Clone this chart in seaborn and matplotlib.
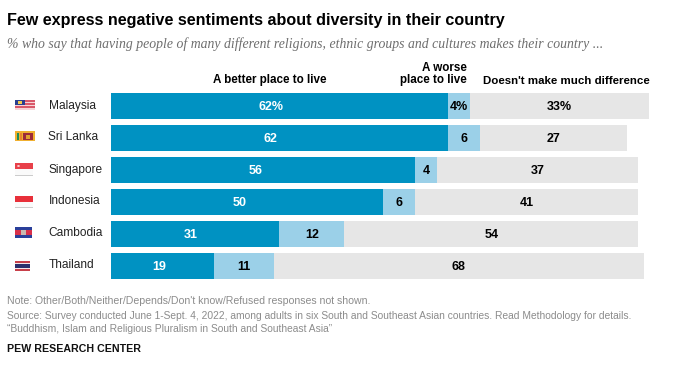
import pandas as pd
import matplotlib
matplotlib.use("Agg")
import matplotlib.pyplot as plt
import seaborn as sns
from matplotlib.patches import Rectangle, Circle

countries = ["Malaysia", "Sri Lanka", "Singapore", "Indonesia", "Cambodia", "Thailand"]
better = [62, 62, 56, 50, 31, 19]
worse = [4, 6, 4, 6, 12, 11]
no_diff = [33, 27, 37, 41, 54, 68]

W, H = 675, 369
C_DARK = "#0092c2"
C_LIGHT = "#9bd0e8"
C_GREY = "#e6e6e6"
C_NOTE = "#8c8c8c"

sns.set_theme(style="white")
plt.rcParams["font.family"] = ["Liberation Sans", "DejaVu Sans"]

df = pd.DataFrame({"country": countries, "better": better, "worse": worse, "no_diff": no_diff})
df["better_worse"] = df["better"] + df["worse"]
df["total"] = df["better_worse"] + df["no_diff"]

fig = plt.figure(figsize=(W / 100, H / 100), dpi=100, facecolor="white")
# eje: 0-100 ocupa 544 px desde x=110.5
ax = fig.add_axes([110.5 / W, (H - 282.5) / H, 544 / W, 192.5 / H])

# barras apiladas: se pinta de la total hacia la primera
for col, color in [("total", C_GREY), ("better_worse", C_LIGHT), ("better", C_DARK)]:
    sns.barplot(data=df, x=col, y="country", order=countries, color=color, saturation=1,
                width=0.81, ax=ax, linewidth=0)

ax.set_xlim(0, 100)
ax.set_ylim(5.5, -0.5)
ax.axis("off")

bar_font = dict(fontsize=9.0, fontweight="bold", ha="center", va="center")
for i, row in df.iterrows():
    suf = "%" if i == 0 else ""
    ax.text(row["better"] * 0.475, i + 0.02, f"{row['better']}{suf}", color="white", **bar_font)
    ax.text(row["better"] + row["worse"] / 2, i + 0.02, f"{row['worse']}{suf}", color="black", **bar_font)
    ax.text(row["better_worse"] + row["no_diff"] / 2, i + 0.02, f"{row['no_diff']}{suf}", color="black", **bar_font)
    fig.text(48.5 / W, 1 - (105.5 + i * 32) / H, row["country"], fontsize=8.6, color="#222222",
             ha="left", va="center")


def ftext(x, y, s, **kw):
    kw.setdefault("va", "center")
    return fig.text(x / W, 1 - y / H, s, **kw)


def rect(x0, y0, x1, y1, color):
    fig.add_artist(Rectangle((x0 / W, 1 - y1 / H), (x1 - x0) / W, (y1 - y0) / H,
                             transform=fig.transFigure, facecolor=color, edgecolor="none"))


def bandera(y0, y1, x1, franjas):
    # franjas horizontales iguales
    n = len(franjas)
    h = (y1 - y0) / n
    for k, c in enumerate(franjas):
        rect(15, y0 + k * h, x1, y0 + (k + 1) * h, c)


# Malasia
bandera(100, 109.5, 34.5, ["#d9596a", "#f6d5d8", "#d9596a", "#f6d5d8", "#d9596a", "#f6d5d8"])
rect(15, 100, 25, 105, "#2b3f8f")
rect(18, 101.5, 22, 103.5, "#f2c94c")
# Sri Lanka
rect(15, 131.5, 34.5, 141.5, "#f0b030")
rect(17, 133, 19, 140, "#1f8a5a")
rect(19.5, 133, 21.5, 140, "#e8842c")
rect(23, 133, 33, 140, "#9c2a3a")
rect(26, 135, 30, 138.5, "#e0a030")
# Singapur
rect(15, 163, 33, 169, "#e8404a")
rect(15, 169, 33, 175, "#fafafa")
rect(15, 175, 33, 175.5, "#cccccc")
fig.add_artist(Circle((18.5 / W, 1 - 166 / H), 0.002, transform=fig.transFigure, facecolor="white", edgecolor="none"))
# Indonesia
rect(15, 195.5, 33, 201.5, "#e8303a")
rect(15, 201.5, 33, 207, "#fafafa")
rect(15, 207, 33, 207.6, "#cccccc")
# Camboya
bandera(227, 238, 31.5, ["#2a3f9a", "#d8304a", "#d8304a", "#2a3f9a"])
rect(20.5, 230, 26, 235, "#c9b9b0")
# Tailandia
bandera(261, 271, 30, ["#c8404a", "#f5e6e8", "#2c2f6c", "#2c2f6c", "#f5e6e8", "#c8404a"])

ftext(6.5, 20.5, "Few express negative sentiments about diversity in their country",
      fontsize=11.65, fontweight="bold", color="black")
ftext(6.5, 44.5, "% who say that having people of many different religions, ethnic groups and cultures makes their country ...",
      fontsize=9.95, style="italic", color="#6e6e6e", family="Liberation Serif")

head = dict(fontsize=8.35, fontweight="bold", color="black")
ftext(270, 80.5, "A better place to live", ha="center", **head)
ftext(467, 68, "A worse", ha="right", **head)
ftext(467, 80.5, "place to live", ha="right", **head)
ftext(483, 80.5, "Doesn't make much difference", ha="left", fontsize=8.25, fontweight="bold", color="black")

note = dict(color=C_NOTE)
ftext(6.5, 301.5, "Note: Other/Both/Neither/Depends/Don't know/Refused responses not shown.", fontsize=7.6, **note)
ftext(6.5, 316, "Source: Survey conducted June 1-Sept. 4, 2022, among adults in six South and Southeast Asian countries. Read Methodology for details.", fontsize=7.4, **note)
ftext(6.5, 329.5, "\u201cBuddhism, Islam and Religious Pluralism in South and Southeast Asia\u201d", fontsize=7.4, **note)
ftext(6.5, 349, "PEW RESEARCH CENTER", fontsize=7.7, fontweight="bold", color="#111111")

fig.savefig("out.png", dpi=100, facecolor="white")
